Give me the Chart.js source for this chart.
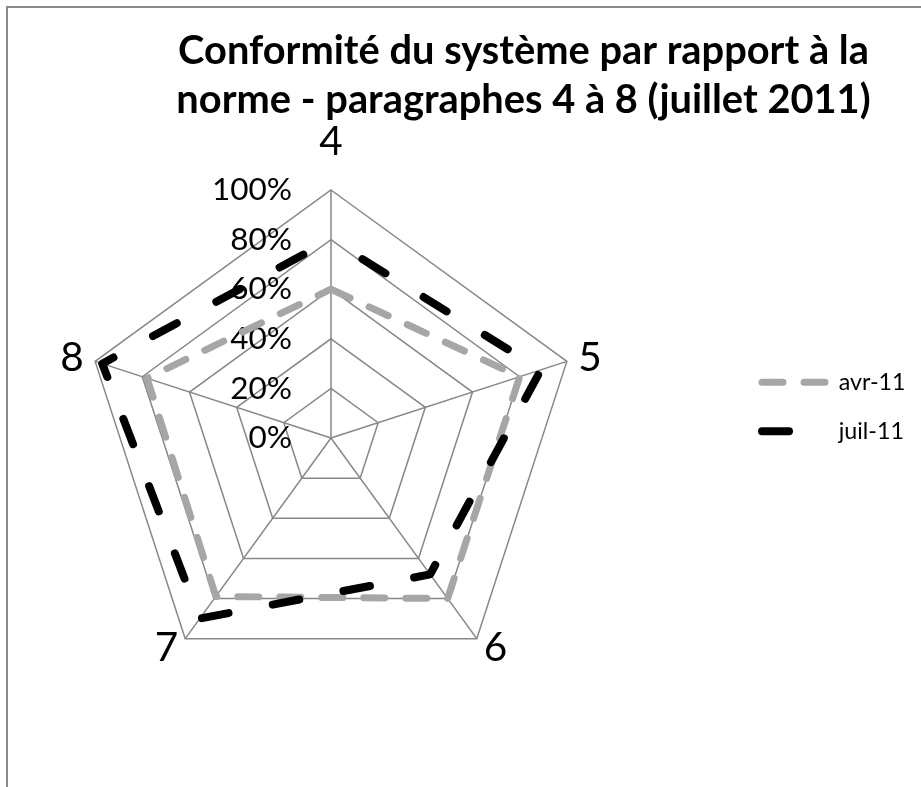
<!DOCTYPE html>
<html lang="fr">
<head>
<meta charset="UTF-8">
<title>Conformité du système</title>
<script src="https://cdn.jsdelivr.net/npm/chart.js@4.4.1/dist/chart.umd.min.js"></script>
<style>
  html, body { margin: 0; padding: 0; background: #fff; overflow: hidden; }
  #frame { position: absolute; left: 6px; top: 6px; width: 1000px; height: 1000px;
           border-left: 2px solid #8a8a8a; border-top: 2px solid #8a8a8a; }
  #graph { position: absolute; left: 0; top: 0; }
</style>
</head>
<body>
<div id="frame"></div>
<canvas id="graph" width="921" height="787"></canvas>
<script>
// paragraphs of the standard (radar axes)
const paragraphs = ['4', '5', '6', '7', '8'];
// conformity in %
const avr11 = [60, 80, 80, 79, 78];
const juil11 = [80, 89, 68, 90, 97];
const seriesNames = ['avr-11', 'juil-11'];
const tickValues = [0, 20, 40, 60, 80, 100];
const titleLines = ['Conformité du système par rapport à la', 'norme - paragraphes 4 à 8 (juillet 2011)'];

// layout
const W = 921;
const plot = { cx: 331, cy: 438, r: 248 };
const labelPad = [48, 12, 12, 12, 12];
const legendDashOffset = [0, 0];
const titleCenter = 523.5;
const legendLineX = 762;
const legendBox = 65;

Chart.defaults.font.family = 'Lato';
Chart.defaults.color = '#000';

// pick font sizes so the texts get the widths they have in the picture
const mctx = document.createElement('canvas').getContext('2d');
function textWidth(text, font) { mctx.font = font; return mctx.measureText(text).width; }
function fitSize(text, weight, width) { return 100 * width / textWidth(text, weight + ' 100px Lato'); }

// tick labels left of the vertical axis + big axis labels
function textPlugin(tickSize, axisSize) {
  return {
    id: 'radarText',
    beforeDatasetsDraw(chart) {
      const s = chart.scales.r;
      const ctx = chart.ctx;
      ctx.save();
      ctx.fillStyle = '#000';
      ctx.textBaseline = 'middle';
      ctx.font = tickSize + 'px Lato';
      ctx.textAlign = 'right';
      s.ticks.forEach(t => {
        ctx.fillText(t.value + '%', s.xCenter - 39, s.yCenter - s.getDistanceFromCenterForValue(t.value));
      });
      ctx.font = axisSize + 'px Lato';
      paragraphs.forEach((lab, i) => {
        const p = s.getPointPosition(i, s.drawingArea + labelPad[i]);
        if (Math.abs(p.x - s.xCenter) < 1) ctx.textAlign = 'center';
        else ctx.textAlign = p.x > s.xCenter ? 'left' : 'right';
        ctx.fillText(lab, p.x, p.y);
      });
      ctx.restore();
    }
  };
}

function chartIt() {
  const titleSize = fitSize(titleLines[0], 'bold', 691);
  const legendSize = fitSize(seriesNames[0], 'normal', 67);
  const tickSize = fitSize('100%', 'normal', 80);
  const axisSize = fitSize('8', 'normal', 23.5);

  const legendText = Math.max(...seriesNames.map(n => textWidth(n, legendSize + 'px Lato')));
  const itemW = legendBox + legendSize / 2 + legendText;
  const padRight = W - legendLineX - 10 - itemW;
  const padLeft = 2 * titleCenter - W + padRight;

  const ctx = document.getElementById('graph').getContext('2d');
  new Chart(ctx, {
    type: 'radar',
    data: {
      labels: paragraphs,
      datasets: [{
        label: seriesNames[0],
        data: avr11,
        order: 1,
        borderColor: '#a6a6a6',
        backgroundColor: 'rgba(0,0,0,0)',
        borderWidth: 7,
        borderDash: [21, 21],
        borderDashOffset: 0,
        borderCapStyle: 'round',
        borderJoinStyle: 'round',
        fill: false,
        pointRadius: 0,
        pointHoverRadius: 0
      }, {
        label: seriesNames[1],
        data: juil11,
        order: 0,
        borderColor: '#000000',
        backgroundColor: 'rgba(0,0,0,0)',
        borderWidth: 8,
        borderDash: [27, 45],
        borderDashOffset: 35,
        borderCapStyle: 'round',
        borderJoinStyle: 'round',
        fill: false,
        pointRadius: 0,
        pointHoverRadius: 0
      }]
    },
    options: {
      responsive: false,
      animation: false,
      devicePixelRatio: 1,
      layout: { padding: { top: 26.5, left: padLeft, right: padRight, bottom: 0 } },
      elements: { line: { tension: 0 } },
      scales: {
        r: {
          min: 0,
          max: 100,
          ticks: { display: false, stepSize: 20 },
          afterBuildTicks(s) { s.ticks = tickValues.map(v => ({ value: v })); },
          afterSetDimensions(s) {
            s.xCenter = plot.cx;
            s.yCenter = plot.cy;
            s.drawingArea = plot.r;
          },
          pointLabels: { display: false },
          grid: { color: '#878787', lineWidth: 1.5 },
          angleLines: { color: '#878787', lineWidth: 1.5 }
        }
      },
      plugins: {
        title: {
          display: true,
          text: titleLines,
          color: '#000',
          font: { size: titleSize, weight: 'bold', lineHeight: '49px' },
          padding: { top: 0, bottom: 15.5 }
        },
        legend: {
          position: 'right',
          labels: {
            usePointStyle: true,
            pointStyle: 'line',
            pointStyleWidth: legendBox,
            padding: 49 - legendSize,
            color: '#000',
            font: { size: legendSize },
            sort: (a, b) => a.datasetIndex - b.datasetIndex,
            generateLabels(chart) {
              const items = Chart.defaults.plugins.legend.labels.generateLabels(chart);
              items.forEach(it => {
                const ds = chart.data.datasets[it.datasetIndex];
                it.strokeStyle = ds.borderColor;
                it.lineWidth = ds.borderWidth;
                it.lineDash = ds.borderDash;
                it.lineCap = ds.borderCapStyle;
                it.lineDashOffset = legendDashOffset[it.datasetIndex];
              });
              return items;
            }
          }
        },
        tooltip: { enabled: false }
      }
    },
    plugins: [textPlugin(tickSize, axisSize)]
  });
}

Promise.all([document.fonts.load('bold 32px Lato'), document.fonts.load('32px Lato')])
  .then(chartIt, chartIt);
</script>
</body>
</html>
